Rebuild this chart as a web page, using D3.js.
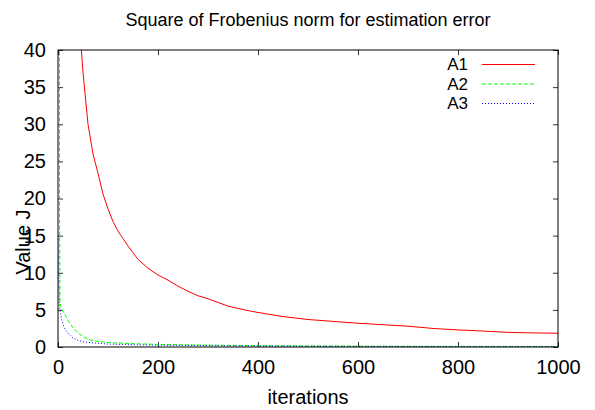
<!DOCTYPE html>
<html>
<head>
<meta charset="utf-8">
<script src="https://cdn.jsdelivr.net/npm/d3@7"></script>
<style>
    body { margin: 0; background: #fff; }
    text { font-family: "Liberation Sans", Arial, sans-serif; font-size: 18px; fill: #000; }
</style>
</head>
<body>
<script>
// Data (iteration, value)
var seriesNames = ['A1', 'A2', 'A3'];
var seriesColors = ['#ff0000', '#00ff00', '#0000ff'];
var seriesDashes = [null, '4,2', '1,2'];

var a1Iter = [10, 20, 30, 40, 50, 60, 70, 80, 90, 100, 110, 120, 130, 140, 150, 160, 180, 200, 220, 240, 260, 280, 300, 320, 340, 360, 380, 400, 450, 500, 550, 600, 650, 700, 750, 800, 850, 900, 950, 1000];
var a1Vals = [120, 80, 60, 46, 37, 30, 26, 23.4, 20.6, 18.6, 16.9, 15.6, 14.6, 13.6, 12.7, 11.8, 10.6, 9.7, 9.0, 8.2, 7.5, 6.9, 6.5, 6.0, 5.5, 5.2, 4.9, 4.65, 4.1, 3.7, 3.45, 3.2, 3.0, 2.8, 2.5, 2.3, 2.15, 1.97, 1.9, 1.85];

var a2Iter = [1, 2, 3, 4, 8, 12, 16, 20, 24, 30, 40, 50, 64, 80, 100, 150, 200, 300, 400, 500, 600, 700, 800, 900, 1000];
var a2Vals = [300, 120, 20, 5.8, 5.0, 4.6, 4.1, 3.6, 3.2, 2.6, 1.9, 1.4, 0.95, 0.75, 0.6, 0.45, 0.35, 0.25, 0.18, 0.14, 0.11, 0.09, 0.08, 0.07, 0.06];

var a3Iter = [0, 1, 2, 3, 5, 8, 12, 16, 22, 30, 40, 50, 70, 100, 150, 200, 300, 400, 500, 600, 700, 800, 900, 1000];
var a3Vals = [15, 10, 7, 5.5, 4.5, 3.5, 2.7, 2.2, 1.7, 1.2, 0.9, 0.7, 0.55, 0.4, 0.3, 0.25, 0.18, 0.13, 0.1, 0.08, 0.07, 0.06, 0.05, 0.05];

var xTicks = [0, 200, 400, 600, 800, 1000];
var yTicks = [0, 5, 10, 15, 20, 25, 30, 35, 40];

var seriesIters = [a1Iter, a2Iter, a3Iter];
var seriesVals = [a1Vals, a2Vals, a3Vals];

window.onload = function(){
    var width = 595, height = 410;
    var left = 58, right = 558, top = 50, bottom = 347;

    var svg = d3.select('body')
        .append('svg')
        .attr('width', width)
        .attr('height', height);

    var x = d3.scaleLinear().domain([0, 1000]).range([left, right]);
    var y = d3.scaleLinear().domain([0, 40]).range([bottom, top]);

    // clip the curves to the plot box
    svg.append('clipPath')
        .attr('id', 'plotClip')
        .append('rect')
        .attr('x', left)
        .attr('y', top)
        .attr('width', right - left)
        .attr('height', bottom - top);

    // Axes: labels outside, ticks inside, mirrored on the opposite side
    svg.append('g')
        .attr('transform', 'translate(0,' + bottom + ')')
        .call(d3.axisBottom(x).tickValues(xTicks).tickSize(-5).tickPadding(13).tickFormat(d3.format('d')));
    svg.append('g')
        .attr('transform', 'translate(0,' + top + ')')
        .call(d3.axisTop(x).tickValues(xTicks).tickSize(-5).tickFormat(''));
    svg.append('g')
        .attr('transform', 'translate(' + left + ',0)')
        .call(d3.axisLeft(y).tickValues(yTicks).tickSize(-5).tickPadding(12));
    svg.append('g')
        .attr('transform', 'translate(' + right + ',0)')
        .call(d3.axisRight(y).tickValues(yTicks).tickSize(-5).tickFormat(''));

    svg.selectAll('.domain').remove();
    svg.selectAll('.tick line').attr('stroke', '#333');
    svg.selectAll('.tick text')
        .style('font-family', '"Liberation Sans", Arial, sans-serif')
        .style('font-size', '20px')
        .attr('fill', '#000');

    // the curves
    var line = d3.line()
        .x(function(d){ return x(d[0]); })
        .y(function(d){ return y(d[1]); });

    var curves = svg.append('g').attr('clip-path', 'url(#plotClip)');
    seriesNames.forEach(function(name, i){
        var pts = seriesIters[i].map(function(it, j){ return [it, seriesVals[i][j]]; });
        curves.append('path')
            .datum(pts)
            .attr('d', line)
            .attr('fill', 'none')
            .attr('stroke', seriesColors[i])
            .attr('stroke-width', 1)
            .attr('stroke-dasharray', seriesDashes[i]);
    });

    // frame
    svg.append('rect')
        .attr('x', left)
        .attr('y', top)
        .attr('width', right - left)
        .attr('height', bottom - top)
        .attr('fill', 'none')
        .attr('stroke', '#000')
        .attr('stroke-width', 1);

    // legend
    var legend = svg.selectAll('.legend')
        .data(seriesNames)
        .enter()
        .append('g')
        .attr('class', 'legend')
        .attr('transform', function(d, i){ return 'translate(0,' + (64.5 + i * 19.5) + ')'; });
    legend.append('text')
        .attr('x', 468)
        .attr('dy', '0.35em')
        .attr('text-anchor', 'end')
        .style('font-size', '17px')
        .text(function(d){ return d; });
    legend.append('line')
        .attr('x1', 482)
        .attr('x2', 535)
        .attr('stroke', function(d, i){ return seriesColors[i]; })
        .attr('stroke-width', 1)
        .attr('stroke-dasharray', function(d, i){ return seriesDashes[i]; });

    // titles
    svg.append('text')
        .attr('x', (left + right) / 2)
        .attr('y', 26)
        .attr('text-anchor', 'middle')
        .text('Square of Frobenius norm for estimation error');
    svg.append('text')
        .attr('x', (left + right) / 2)
        .attr('y', 404)
        .attr('text-anchor', 'middle')
        .style('font-size', '20px')
        .text('iterations');
    svg.append('text')
        .attr('transform', 'translate(30,242) rotate(-90)')
        .attr('text-anchor', 'middle')
        .style('font-size', '20px')
        .text('Value J');
}
</script>
</body>
</html>
